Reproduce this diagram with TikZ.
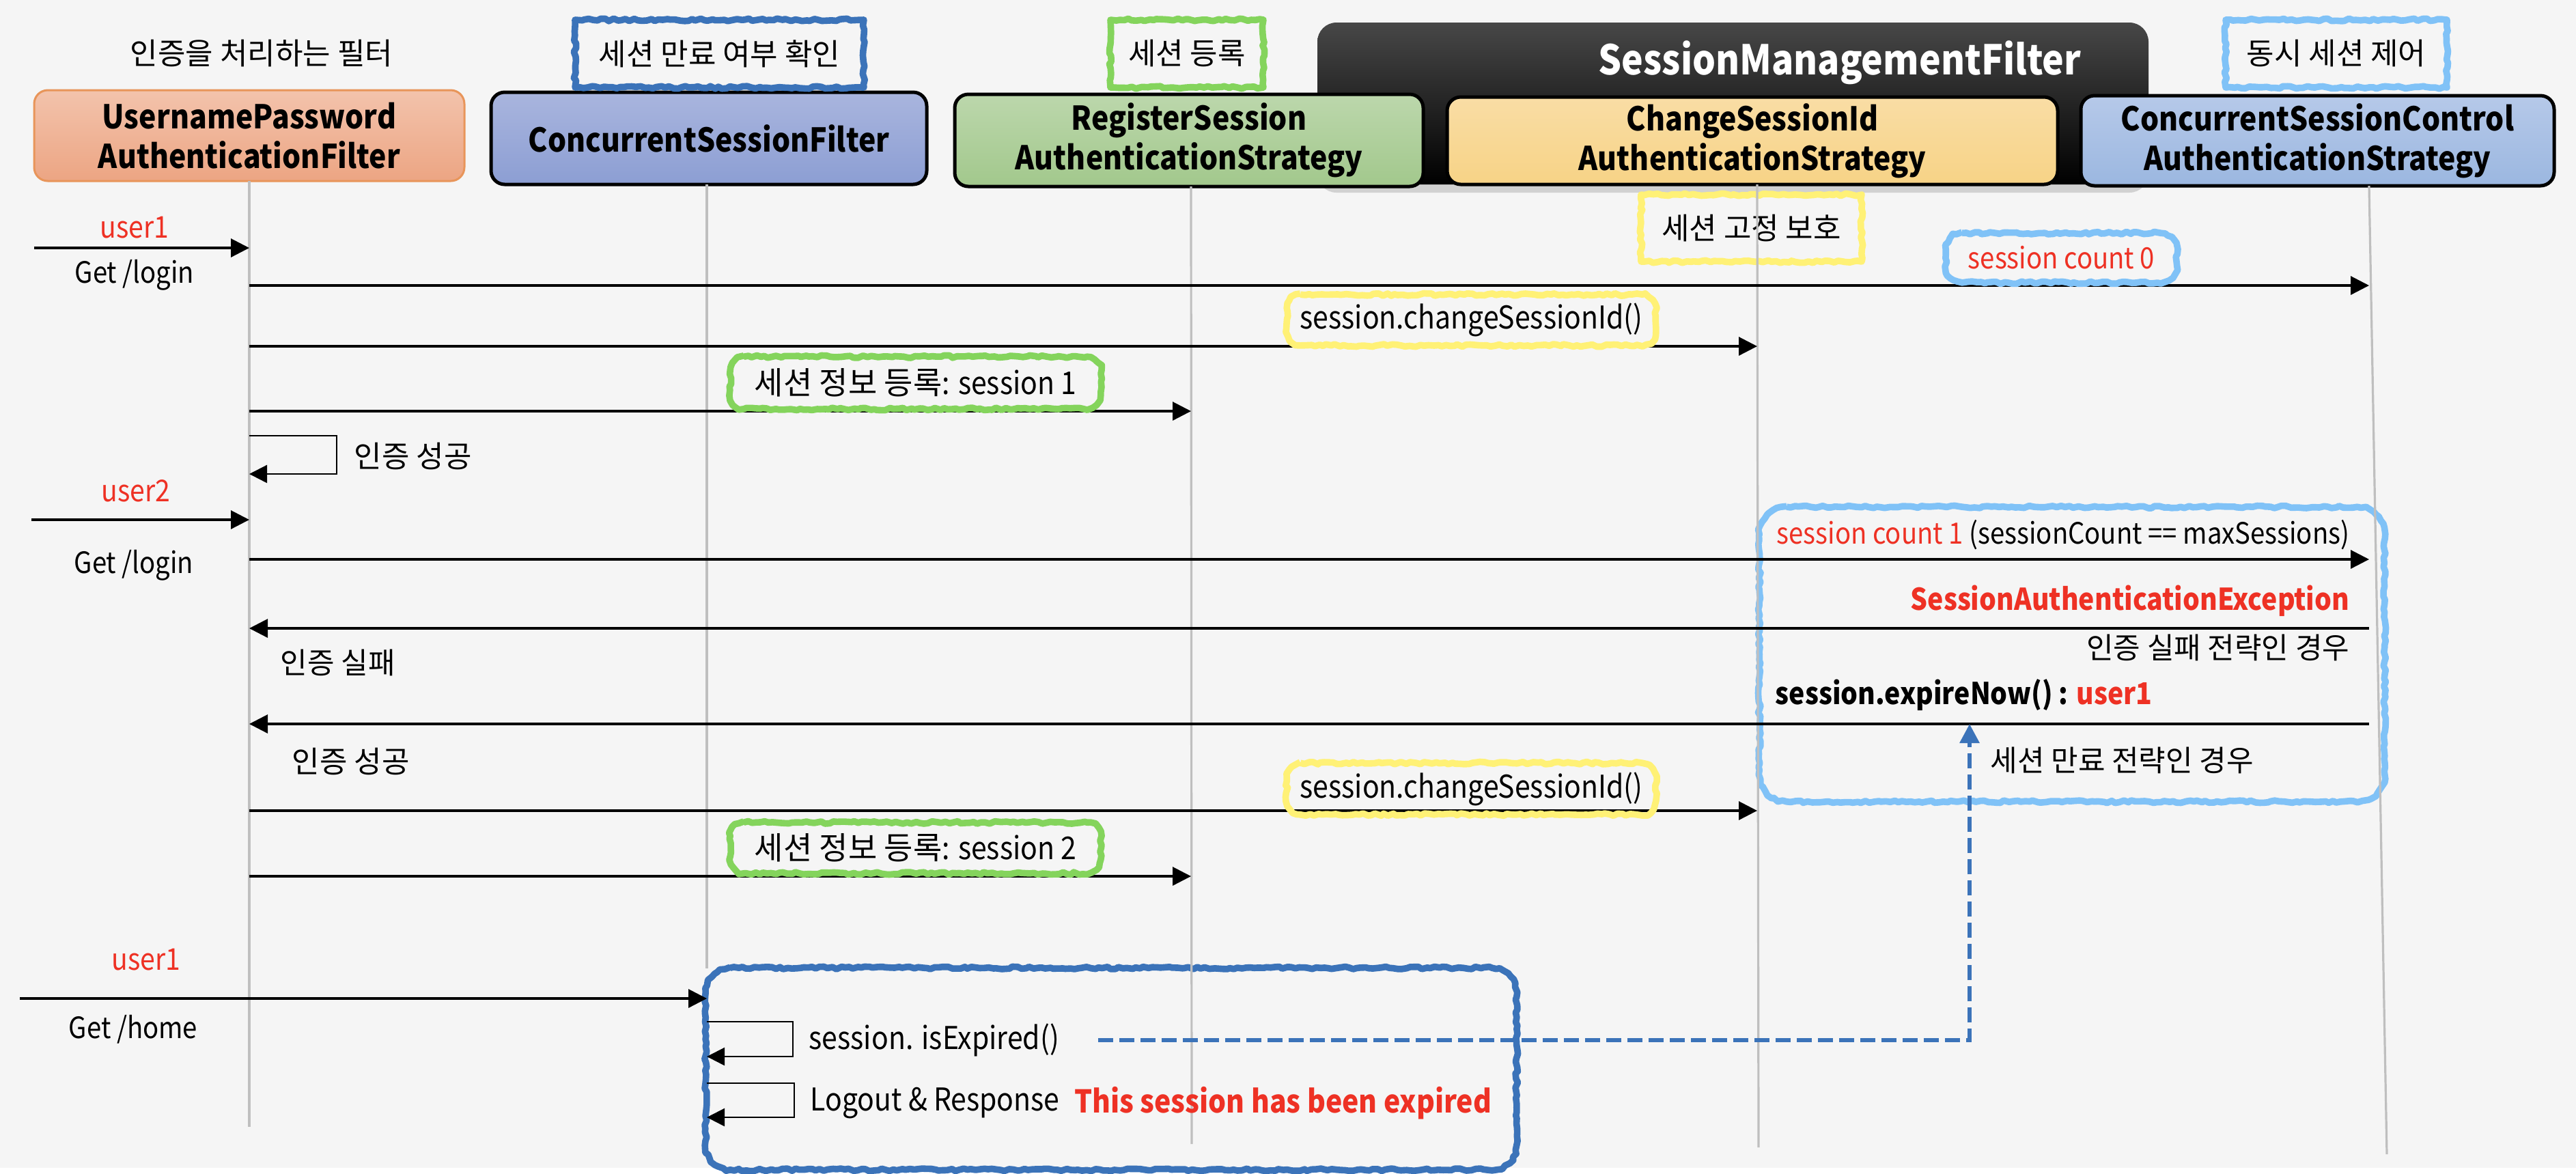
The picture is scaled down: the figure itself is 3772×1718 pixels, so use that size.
\documentclass[tikz,border=0pt]{standalone}
\usepackage{fontspec}
\setmainfont{Noto Sans CJK KR}[FakeStretch=0.89]
\newfontfamily\kr{Noto Sans CJK KR}
\usetikzlibrary{arrows.meta, positioning, calc, shadows, decorations.pathmorphing}

\definecolor{bgcol}{HTML}{F5F5F5}
\definecolor{redtxt}{HTML}{EE3124}
\definecolor{lifecol}{HTML}{BFBFBF}
\definecolor{skblue}{HTML}{3B73B9}
\definecolor{skgreen}{HTML}{84D45C}
\definecolor{sklight}{HTML}{80C2F7}
\definecolor{skyellow}{HTML}{FFF176}
\definecolor{upfline}{HTML}{E8955A}
\definecolor{upftop}{HTML}{F3C3AC}
\definecolor{upfbot}{HTML}{ECA583}
\definecolor{csftop}{HTML}{A9B5DE}
\definecolor{csfbot}{HTML}{8C9ED3}
\definecolor{rsatop}{HTML}{BCD7AC}
\definecolor{rsabot}{HTML}{A2C88C}
\definecolor{csitop}{HTML}{F9DDA5}
\definecolor{csibot}{HTML}{F7D386}
\definecolor{cctop}{HTML}{B6C9E9}
\definecolor{ccbot}{HTML}{9BB7E0}

% crayon outline with rounded corners round a named node
\newcommand{\sketchround}[3]{%
  \draw[sketch=#2] ([xshift=#3]#1.north west) -- ([xshift=-#3]#1.north east)
    arc[start angle=90, end angle=0, radius=#3] -- ([yshift=#3]#1.south east)
    arc[start angle=0, end angle=-90, radius=#3] -- ([xshift=#3]#1.south west)
    arc[start angle=270, end angle=180, radius=#3] -- ([yshift=-#3]#1.north west)
    arc[start angle=180, end angle=90, radius=#3] -- cycle;}

\begin{document}
\begin{tikzpicture}[x=0.25pt, y=-0.25pt,
  filter/.style={rectangle, rounded corners=5pt, draw=black, line width=1.25pt, align=center, inner sep=0pt,
    font=\fontsize{12}{14.5}\selectfont\bfseries},
  lifeline/.style={draw=lifecol, line width=0.8pt},
  msg/.style={line width=0.8pt, -{Triangle[length=6.75pt,width=6.75pt]}},
  selfmsg/.style={line width=0.6pt, -{Triangle[length=6.5pt,width=6.5pt]}},
  expline/.style={draw=skblue, line width=1.5pt, dash pattern=on 5.5pt off 2.25pt, -{Triangle[length=7pt,width=7pt]}},
  lbl/.style={font=\fontsize{10.75}{13}\selectfont, inner sep=0pt},
  user/.style={lbl, text=redtxt, font=\fontsize{11}{13}\selectfont},
  sketch/.style={draw=#1, line width=2.4pt, line join=round, decorate,
    decoration={random steps, segment length=1.5pt, amplitude=0.45pt}},
  sketchbox/.style={sketch=#1, rectangle, inner sep=0pt, font=\fontsize{11}{13}\selectfont\kr},
  tag/.style={rectangle, inner sep=0pt, font=\fontsize{11.5}{13}\selectfont},
  ]
\pgfmathsetseed{7}

% background
\fill[white] (0,0) rectangle (3772,1718);
\fill[bgcol] (0,0) rectangle (3772,1710);
\useasboundingbox (0,0) rectangle (3772,1718);

% SessionManagementFilter group
\node[rectangle, rounded corners=7pt, top color=black!72, middle color=black, bottom color=black,
  minimum width=304.25pt, minimum height=59.25pt, drop shadow={opacity=0.3, shadow xshift=0pt, shadow yshift=-3pt}] (smf) at (2537.5,151.5) {};
\node[font=\fontsize{15}{18}\selectfont\bfseries, text=white, inner sep=0pt] (smftitle) at (2694,92) {SessionManagementFilter};

% filters and strategies
\node[filter, draw=upfline, line width=0.75pt, top color=upftop, bottom color=upfbot,
  minimum width=157.5pt, minimum height=33.25pt] (upf) at (365,198.5) {UsernamePassword\\AuthenticationFilter};
\node[filter, top color=csftop, bottom color=csfbot,
  minimum width=159.5pt, minimum height=33.75pt] (csf) at (1038,202.5) {ConcurrentSessionFilter};
\node[filter, top color=rsatop, bottom color=rsabot,
  minimum width=171.5pt, minimum height=33.75pt] (rsas) at (1741,205.5) {RegisterSession\\AuthenticationStrategy};
\node[filter, top color=csitop, bottom color=csibot,
  minimum width=223.5pt, minimum height=32pt] (csias) at (2566,206) {ChangeSessionId\\AuthenticationStrategy};
\node[filter, top color=cctop, bottom color=ccbot,
  minimum width=173.25pt, minimum height=33pt] (cscas) at (3393.5,206) {ConcurrentSessionControl\\AuthenticationStrategy};

% notes above
\node[lbl, font=\fontsize{11}{13}\selectfont\kr] (authnote) at (383,78) {인증을 처리하는 필터};
\node[sketchbox=skblue, minimum width=105.75pt, minimum height=24.75pt] (expnote) at (1053.5,78.5) {세션 만료 여부 확인};
\node[sketchbox=skgreen, minimum width=56pt, minimum height=24.75pt] (regnote) at (1738,78.5) {세션 등록};
\node[sketchbox=sklight, minimum width=81pt, minimum height=24.75pt] (ctrlnote) at (3421,78.5) {동시 세션 제어};
\node[sketchbox=skyellow, minimum width=80.75pt, minimum height=24.5pt] (fixnote) at (2564.5,334) {세션 고정 보호};

% frames
\node[rectangle, minimum width=228.5pt, minimum height=107.5pt] (ctrlframe) at (3034,958) {};
\sketchround{ctrlframe}{sklight}{10pt}
\node[rectangle, minimum width=296.5pt, minimum height=73.5pt] (expframe) at (1627,1565) {};
\sketchround{expframe}{skblue}{9pt}

% lifelines
\coordinate (l1) at (365,265);   \coordinate (l1end) at (365,1650);
\coordinate (l2) at (1035,270);  \coordinate (l2end) at (1035,1418);
\coordinate (l3) at (1744,273);  \coordinate (l3end) at (1745,1675);
\coordinate (l4) at (2573,270);  \coordinate (l4end) at (2575,1680);
\coordinate (l5) at (3469,272);  \coordinate (l5end) at (3495,1690);
\draw[lifeline] (l1) -- (l1end);
\draw[lifeline] (l2) -- (l2end);
\draw[lifeline] (l3) -- (l3end);
\draw[lifeline] (l4) -- (l4end);
\draw[lifeline] (l5) -- (l5end);

% user1 login
\coordinate (u1in) at (50,363);
\draw[msg] (u1in) -- (u1in -| l1);
\node[user] (user1) at (197,333) {user1};
\node[lbl] (login1) at (197,403) {Get /login};

\coordinate (r2) at (0,418);
\draw[msg] (l1 |- r2) -- (l5 |- r2);
\node[tag, text=redtxt, font=\fontsize{10.75}{13}\selectfont, minimum width=84.25pt, minimum height=17.75pt] (cnt0) at (3018.5,377.5) {session count 0};
\sketchround{cnt0}{sklight}{6pt}

\coordinate (r3) at (0,507);
\draw[msg] (l1 |- r3) -- (l4 |- r3);
\node[tag, minimum width=134.75pt, minimum height=18.25pt] (chg1) at (2154.5,468.5) {session.changeSessionId()};
\sketchround{chg1}{skyellow}{5pt}

\coordinate (r4) at (0,602);
\draw[msg] (l1 |- r4) -- (l3 |- r4);
\node[tag, minimum width=135.25pt, minimum height=18.75pt] (reg1) at (1340.5,560.5) {{\kr 세션 정보 등록}: session 1};
\sketchround{reg1}{skgreen}{5pt}

\coordinate (lp1) at (493,638); \coordinate (lp1e) at (493,694);
\draw[selfmsg] (l1 |- lp1) -- (lp1) -- (lp1e) -- (l1 |- lp1e);
\node[lbl, anchor=west, font=\fontsize{11}{13}\selectfont\kr] (ok1) at (518,668) {인증 성공};

% user2 login
\coordinate (u2in) at (46,761);
\draw[msg] (u2in) -- (u2in -| l1);
\node[user] (user2) at (199,719) {user2};
\node[lbl] (login2) at (196,828) {Get /login};

\coordinate (r6) at (0,819);
\draw[msg] (l1 |- r6) -- (l5 |- r6);
\node[lbl, anchor=east] (cnt1) at (3441,783) {\textcolor{redtxt}{session count 1} (sessionCount == maxSessions)};
\node[lbl, anchor=east, text=redtxt, font=\fontsize{11}{13}\selectfont\bfseries] (sae) at (3441,880) {SessionAuthenticationException};

\coordinate (r7) at (0,920);
\draw[msg] (l5 |- r7) -- (l1 |- r7);
\node[lbl, anchor=east, font=\fontsize{10.75}{13}\selectfont\kr] (failcase) at (3441,948) {인증 실패 전략인 경우};
\node[lbl, anchor=west, font=\fontsize{10.75}{13}\selectfont\kr] (fail) at (410,970) {인증 실패};
\node[lbl, anchor=west, font=\fontsize{11}{13}\selectfont\bfseries] (expnow) at (2599,1018) {session.expireNow() : \textcolor{redtxt}{user1}};

\coordinate (r8) at (0,1060);
\draw[msg] (l5 |- r8) -- (l1 |- r8);
\node[lbl, anchor=west, font=\fontsize{11}{13}\selectfont\kr] (ok2) at (427,1115) {인증 성공};
\node[lbl, anchor=west, font=\fontsize{10.75}{13}\selectfont\kr] (expcase) at (2914,1113) {세션 만료 전략인 경우};

\coordinate (r9) at (0,1187);
\draw[msg] (l1 |- r9) -- (l4 |- r9);
\node[tag, minimum width=134.75pt, minimum height=18.5pt] (chg2) at (2154.5,1155) {session.changeSessionId()};
\sketchround{chg2}{skyellow}{5pt}

\coordinate (r10) at (0,1283);
\draw[msg] (l1 |- r10) -- (l3 |- r10);
\node[tag, minimum width=135.25pt, minimum height=18.25pt] (reg2) at (1340.5,1241.5) {{\kr 세션 정보 등록}: session 2};
\sketchround{reg2}{skgreen}{5pt}

% user1 again
\coordinate (u3in) at (29,1462);
\draw[msg] (u3in) -- (u3in -| l2);
\node[user] (user1b) at (214,1405) {user1};
\node[lbl] (home) at (195,1507) {Get /home};

\coordinate (lp2) at (1161,1496); \coordinate (lp2e) at (1161,1547);
\draw[selfmsg] (l2 |- lp2) -- (lp2) -- (lp2e) -- (l2 |- lp2e);
\node[lbl, anchor=west, font=\fontsize{11.5}{13}\selectfont] (isexp) at (1184,1523) {session. isExpired()};

\coordinate (lp3) at (1163,1586); \coordinate (lp3e) at (1163,1636);
\draw[selfmsg] (l2 |- lp3) -- (lp3) -- (lp3e) -- (l2 |- lp3e);
\node[lbl, anchor=west, font=\fontsize{11.5}{13}\selectfont] (logout) at (1186,1615) {Logout \& Response};
\node[lbl, anchor=west, text=redtxt, font=\fontsize{11.5}{13}\selectfont\bfseries, right=5pt of logout] (expired) {This session has been expired};

% expired session back to strategy
\coordinate (dend) at (2884,1060);
\draw[expline] ([xshift=14pt]isexp.east) -| (dend);

\end{tikzpicture}
\end{document}
